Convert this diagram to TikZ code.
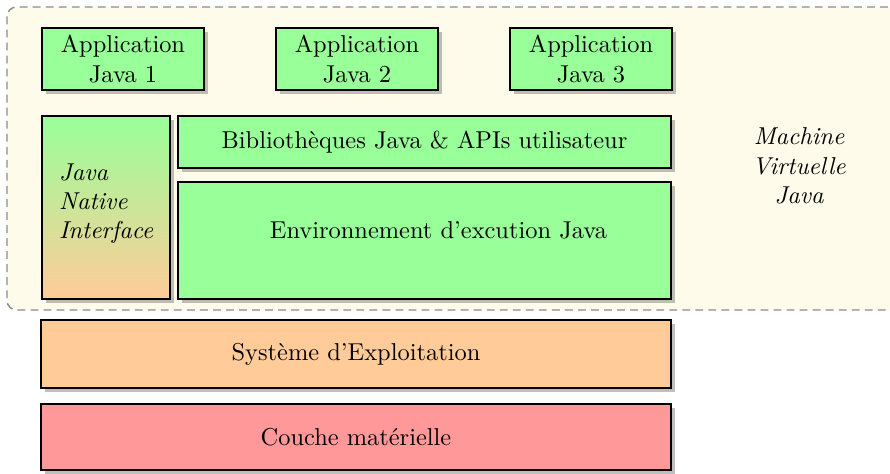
\documentclass[tikz,border=0pt]{standalone}
\usetikzlibrary{shadows}
\definecolor{vmcream}{RGB}{254,251,234}
\begin{document}
\begin{tikzpicture}[x=0.4219pt,y=-0.4219pt,
  every node/.style={font=\fontsize{10.3pt}{12.4pt}\selectfont},
  layer/.style={draw=black,thick,rectangle,inner sep=0pt,drop shadow={shadow xshift=1.7pt,shadow yshift=-1.7pt,opacity=0.5},align=center},
  appbox/.style={layer,fill=green!40,minimum width=68.35pt,minimum height=26.2pt},
  vmzone/.style={draw=black!45,line width=0.6pt,dash pattern=on 3.3pt off 2.2pt,fill=vmcream,rounded corners=4pt}]
\useasboundingbox (0,0) rectangle (890,473);
\draw[vmzone] (7,7) rectangle (905,310);
\node[appbox] (a1) at (123,59) {Application\\Java 1};
\node[appbox] (a2) at (357,59) {Application\\Java 2};
\node[appbox] (a3) at (591,59) {Application\\Java 3};
\node[layer,top color=green!40,bottom color=orange!40,minimum width=54pt,minimum height=77.2pt,align=left,text depth=5.4pt,font=\fontsize{10.3pt}{12.4pt}\selectfont\itshape] (jni) at (106,207.5) {Java\\Native\\Interface};
\node[layer,fill=green!40,minimum width=208pt,minimum height=21.9pt] (lib) at (424.5,142) {Bibliothèques Java \& APIs utilisateur};
\node[layer,fill=green!40,minimum width=208pt,minimum height=49.4pt] (jre) at (424.5,240.5) {\hspace*{11.8pt}\raisebox{8.9pt}{Environnement d'excution Java}};
\node[layer,fill=orange!40,minimum width=265.8pt,minimum height=28.7pt] (os) at (356,354) {Système d'Exploitation};
\node[layer,fill=red!40,minimum width=265.8pt,minimum height=27.8pt] (hw) at (356,437) {Couche matérielle};
\node[align=center,font=\fontsize{10.3pt}{12.4pt}\selectfont\itshape] (jvm) at (799,166) {Machine\\Virtuelle\\Java};
\end{tikzpicture}
\end{document}
